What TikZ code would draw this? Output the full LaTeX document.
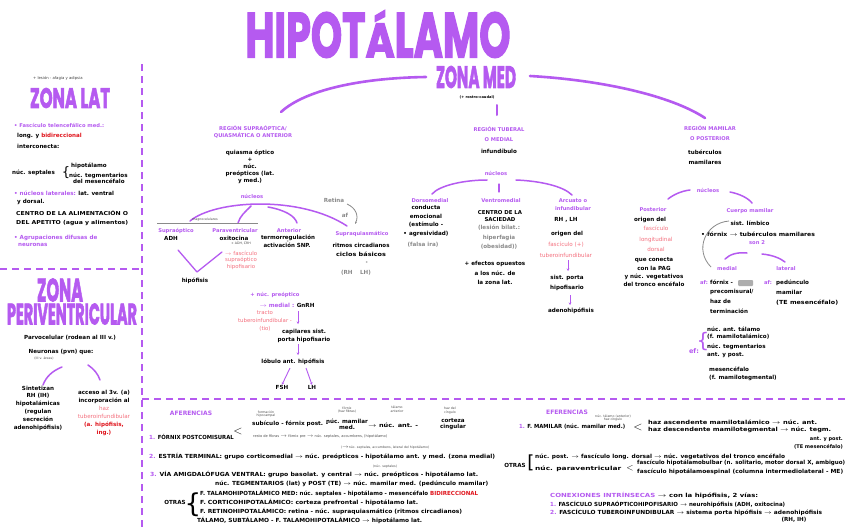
\documentclass[tikz,border=0pt]{standalone}
\usepackage{fontspec}
\usepackage{graphicx}
\setmainfont{DejaVu Sans}
\newfontfamily\headfont{Poppins}[FakeBold=2.5]
\usetikzlibrary{arrows.meta}
\definecolor{purp}{HTML}{B55AF0}
\definecolor{pinkc}{HTML}{F4707E}
\definecolor{redc}{HTML}{E0141C}
\definecolor{grayc}{HTML}{8A8A8A}
\newcommand\hw[2]{\resizebox{#1pt}{\height}{#2}}
\newcommand\myra{\ensuremath{\rightarrow}}
\newcommand\hd[3]{\resizebox{#1pt}{#2pt}{\headfont\bfseries #3}}
\tikzset{
 tx/.style={font=\fontsize{5.6}{7}\selectfont\bfseries, inner sep=0pt, align=center, text=black},
 pu/.style={tx, text=purp, font=\fontsize{5.2}{6.6}\selectfont\bfseries},
 pk/.style={tx, text=pinkc},
 gy/.style={tx, text=grayc},
 tn/.style={font=\fontsize{3.2}{3.8}\selectfont, inner sep=0pt, align=center, text=black!70},
 hd/.style={inner sep=0pt, text=purp},
 pline/.style={draw=purp, line width=1.5pt, line cap=round},
 bigline/.style={draw=purp, line width=2.6pt, line cap=round},
 pdash/.style={draw=purp, line width=2pt, dash pattern=on 7pt off 5pt},
 parr/.style={draw=purp, line width=0.9pt, -{Stealth[length=2.5pt,width=2.5pt]}},
}
\begin{document}
\begin{tikzpicture}[x=1pt,y=-1pt]
\fill[white] (0,0) rectangle (848,530);
\useasboundingbox (0,0) rectangle (848,530);

% ---------- separators ----------
\draw[pdash] (142,64) -- (142,530);
\draw[pdash] (0,269) -- (142,269);
\draw[pdash] (142,399) -- (848,399);

% ---------- title ----------
\node[hd] (title) at (378,34) {\hd{265}{47}{HIPOT\scalebox{1}[0.76]{Á}LAMO}};
\node[hd] (zmed) at (476,77) {\hd{80}{22}{ZONA MED}};
\node[tn, text=black, font=\fontsize{3.6}{4}\selectfont\bfseries] (rc) at (477,97.5) {(+ rostro-caudal)};
\coordinate (zl) at (426,77);
\coordinate (zr) at (530,76);
\coordinate (endA) at (281,112);
\coordinate (endM) at (705,118);
\draw[bigline] (zl) .. controls (360,78) and (305,90) .. (endA);
\draw[bigline] (zr) .. controls (600,80) and (670,95) .. (endM);
\coordinate (tk1) at (497,105);
\coordinate (tk2) at (497,115);
\draw[bigline, line width=2pt] (tk1) -- (tk2);

% ---------- ZONA LAT ----------
\node[tn, anchor=west, font=\fontsize{3.8}{4.4}\selectfont, text=black!75] (les) at (33,78) {+ lesión - afagia y adipsia};
\node[hd] (zlat) at (70,98) {\hd{80}{20}{ZONA LAT}};
\node[pu, anchor=west] (fas) at (14,125) {• Fascículo telencefálico med.:};
\node[tx, anchor=west] (long) at (17,136) {long. y \textcolor{redc}{bidireccional}};
\node[tx, anchor=west] (inter) at (17,146) {interconecta:};
\node[tx, anchor=west] (sept) at (12,173) {núc. septales};
\node[tx] (brA) at (66,173) {\fontsize{13}{13}\selectfont\mdseries\{};
\node[tx, anchor=west] (hipo) at (71,166) {hipotálamo};
\node[tx, anchor=west, align=left, font=\fontsize{5.6}{6.3}\selectfont\bfseries] (tegm) at (69,178) {núc. tegmentarios\\\ \ del mesencéfalo};
\node[tx, anchor=west] (nlat) at (14,193) {\textcolor{purp}{• núcleos laterales:} lat. ventral};
\node[tx, anchor=west] (ydor) at (17,202) {y dorsal.};
\node[tx, anchor=west, align=left, font=\fontsize{5.4}{8.5}\selectfont\bfseries] (centro) at (16,218) {\hw{112}{CENTRO DE LA ALIMENTACIÓN O}\\\hw{112}{DEL APETITO (agua y alimentos)}};
\node[pu, anchor=west, align=left, font=\fontsize{5.6}{7.5}\selectfont\bfseries] (agr) at (14,241) {• Agrupaciones difusas de\\\ \ neuronas};

% ---------- ZONA PERIVENTRICULAR ----------
\node[hd] (zona2) at (60,290) {\hd{46}{23}{ZONA}};
\node[hd] (periv) at (72,314) {\hd{130}{21}{PERIVENTRICULAR}};
\node[tx] (parv) at (70,338) {Parvocelular (rodean al III v.)};
\node[tx] (neur) at (61,352) {Neuronas (pvn) que:};
\node[tn] (neur2) at (44,358.5) {(III v. áreas)};
\coordinate (pa1) at (62,367); \coordinate (pa2) at (43,385);
\coordinate (pb1) at (88,365); \coordinate (pb2) at (100,380);
\draw[pline] (pa1) .. controls (52,371) and (46,377) .. (pa2);
\draw[pline] (pb1) .. controls (94,369) and (98,374) .. (pb2);
\node[tx, font=\fontsize{5.6}{7.8}\selectfont\bfseries] (sint) at (38,408) {Sintetizan\\RH (IH)\\hipotalámicas\\(regulan\\secreción\\adenohipófisis)};
\node[tx, font=\fontsize{5.6}{8}\selectfont\bfseries] (acc) at (104,413) {acceso al 3v. (a)\\incorporación al\\\textcolor{pinkc}{\mdseries haz}\\\textcolor{pinkc}{\mdseries tuberoinfundibular}\\\textcolor{redc}{(a. hipófisis,}\\\textcolor{redc}{ing.)}};

% ---------- REGION ANTERIOR ----------
\node[pu] (regA) at (253,132) {REGIÓN SUPRAÓPTICA/\\QUIASMÁTICA O ANTERIOR};
\node[tx, font=\fontsize{5.6}{7}\selectfont\bfseries] (quias) at (250,167) {quiasma óptico\\+\\núc.\\preópticos (lat.\\y med.)};
\node[pu] (nucA) at (252,196) {núcleos};
\coordinate (aa1) at (190,221); \coordinate (aa2) at (347,226);
\coordinate (ab1) at (251,206); \coordinate (ab2) at (238,223);
\coordinate (ac1) at (268,207); \coordinate (ac2) at (297,223);
\draw[pline] (aa1) .. controls (215,200) and (300,195) .. (aa2);
\draw[pline] (ab1) .. controls (245,212) and (240,216) .. (ab2);
\draw[pline] (ac1) .. controls (285,210) and (295,216) .. (ac2);
\coordinate (mg1) at (157,223); \coordinate (mg2) at (258,223);
\draw[grayc, line width=0.6pt] (mg1) -- (mg2);
\node[tn] (magno) at (205,220) {magnocelulares};
\node[pu] (supo) at (176,231) {Supraóptico};
\node[tx] (adh) at (171,238) {ADH};
\node[pu] (parav) at (235,231) {Paraventricular};
\node[tx] (oxi) at (234,238) {oxitocina};
\node[tn] (oxi2) at (241,243) {+ ADH, CRH};
\node[pu] (ant) at (289,231) {Anterior};
\node[tx] (termo) at (288,238) {\hw{54}{termorregulación}};
\node[tn] (plus1) at (288,241.5) {+};
\node[tx] (activ) at (287,245.5) {\hw{47}{activación SNP.}};
\node[pu] (supq) at (362,234) {Supraquiasmático};
\node[tx, font=\fontsize{5.6}{9}\selectfont\bfseries] (ritmo) at (361,250) {\hw{57}{ritmos circadianos}\\\hw{50}{ciclos básicos}};
\node[tn] (plus2) at (367,262) {+};
\node[gy] (rhlh) at (356,273) {(RH \quad LH)};
\node[gy] (retina) at (334,200) {Retina};
\node[gy] (aff) at (345,215) {af};
\coordinate (rt1) at (347,204); \coordinate (rt2) at (355,224);
\draw[grayc, line width=0.8pt, -{Stealth[length=2.5pt]}] (rt1) .. controls (356,208) and (359,216) .. (rt2);
\coordinate (v1) at (178,250); \coordinate (v2) at (197,272); \coordinate (v3) at (222,252);
\draw[pline, line width=1.3pt, line join=round] (v1) -- (v2) -- (v3);
\node[tx] (hip) at (195,281) {hipófisis};
\node[pk, font=\fontsize{5.4}{6.6}\selectfont\mdseries] (fsh1) at (241,260) {\myra\ fascículo\\supraóptico\\hipofisario};
\node[pu] (pre) at (275,295) {+ núc. preóptico};
\node[tx] (gnrh) at (287,305) {\textcolor{purp}{\myra\ medial :} GnRH};
\node[pk, font=\fontsize{5.4}{7.8}\selectfont\mdseries] (tracto) at (265,321) {tracto\\tuberoinfundibular -\\(tio)};
\draw[parr] (298,311) -- (298,324);
\node[tx, font=\fontsize{5.6}{8}\selectfont\bfseries] (cap) at (304,336) {capilares sist.\\porta hipofisario};
\draw[parr] (298,344) -- (298,355);
\node[tx] (lob) at (293,362) {lóbulo ant. hipófisis};
\node[tx] (fsh) at (282,387) {FSH};
\node[tx] (lh) at (312,387) {LH};
\draw[parr] (290,368) -- (fsh.north);
\draw[parr] (306,368) -- (lh.north);

% ---------- REGION TUBERAL ----------
\node[pu, font=\fontsize{5.2}{10}\selectfont\bfseries] (regT) at (499,134) {REGIÓN TUBERAL\\O MEDIAL};
\node[tx] (inf) at (499,151) {infundíbulo};
\node[pu] (nucT) at (496,173) {núcleos};
\coordinate (ta1) at (487,180); \coordinate (ta2) at (432,194);
\coordinate (tb1) at (516,180); \coordinate (tb2) at (572,195);
\coordinate (tc1) at (499,184); \coordinate (tc2) at (499,192);
\draw[pline] (ta1) .. controls (465,180) and (440,185) .. (ta2);
\draw[pline] (tb1) .. controls (540,181) and (563,186) .. (tb2);
\draw[pline, line width=1.2pt] (tc1) -- (tc2);
\node[pu] (dors) at (430,201) {Dorsomedial};
\node[tx, font=\fontsize{5.6}{8.5}\selectfont\bfseries] (cond) at (426,221) {conducta\\emocional\\(estímulo -\\• agresividad)};
\node[gy] (falsa) at (423,245) {(falsa ira)};
\node[pu] (vent) at (501,201) {Ventromedial};
\node[tx, font=\fontsize{5.4}{7}\selectfont\bfseries] (cent) at (500,216.5) {CENTRO DE LA\\SACIEDAD};
\node[gy, font=\fontsize{5.6}{9.5}\selectfont\bfseries] (les2) at (499,237.5) {(lesión bilat.:\\hiperfagia\\(obesidad))};
\node[tx, font=\fontsize{5.6}{9.5}\selectfont\bfseries] (efec) at (495,273) {+ efectos opuestos\\a los núc. de\\la zona lat.};
\node[pu, font=\fontsize{5.2}{8}\selectfont\bfseries] (arcu) at (573,205) {Arcuato o\\infundibular};
\node[tx] (ghlh) at (566,220) {RH , LH};
\node[tx] (orig) at (567,234) {origen del};
\node[pk, font=\fontsize{5.6}{10.5}\selectfont\mdseries] (fasT) at (566,250) {fascículo (+)\\tuberoinfundibular};
\draw[parr] (568,260) -- (568,271);
\node[tx, font=\fontsize{5.6}{9.5}\selectfont\bfseries] (sisT) at (567,283) {sist. porta\\hipofisario};
\draw[parr] (570,295) -- (570,305);
\node[tx] (adeno) at (571,311) {adenohipófisis};

% ---------- REGION MAMILAR ----------
\node[pu, font=\fontsize{5.2}{10.5}\selectfont\bfseries] (regM) at (710,133) {REGIÓN MAMILAR\\O POSTERIOR};
\node[tx, font=\fontsize{5.6}{10}\selectfont\bfseries] (tub) at (705,157) {tubérculos\\mamilares};
\node[pu] (nucM) at (708,190) {núcleos};
\coordinate (ma1) at (690,190); \coordinate (ma2) at (668,199);
\coordinate (mb1) at (730,192); \coordinate (mb2) at (752,203);
\draw[pline] (ma1) .. controls (681,191) and (673,195) .. (ma2);
\draw[pline] (mb1) .. controls (740,194) and (748,198) .. (mb2);
\node[pu] (post) at (653,210) {Posterior};
\node[tx] (orig2) at (650,220) {origen del};
\node[pk, font=\fontsize{5.6}{10.5}\selectfont\mdseries] (fld) at (656,239) {fascículo\\longitudinal\\dorsal};
\node[tx, font=\fontsize{5.6}{8.3}\selectfont\bfseries] (conn) at (654,272.5) {que conecta\\con la PAG\\y núc. vegetativos\\del tronco encéfalo};
\node[pu] (cmam) at (750,211) {Cuerpo mamilar};
\node[tx] (slim) at (750,223) {sist. límbico};
\node[tx] (rec) at (758,234) {\hw{114}{• fórnix \myra\ tubérculos mamilares}};
\node[pu] (son2) at (757,243) {son 2};
\coordinate (gc1) at (729,221); \coordinate (gc2) at (711,267);
\draw[grayc, line width=0.8pt] (gc1) .. controls (705,223) and (694,250) .. (gc2);
\coordinate (la1) at (747,253); \coordinate (la2) at (725,259);
\coordinate (lb1) at (762,254); \coordinate (lb2) at (785,262);
\draw[pline] (la1) .. controls (738,252) and (730,254) .. (la2);
\draw[pline] (lb1) .. controls (772,255) and (780,258) .. (lb2);
\node[pu] (medi) at (727,269) {medial};
\node[pu] (late) at (786,269) {lateral};
\node[pu] (af1) at (704,283) {af:};
\node[tx, anchor=north west, align=left, font=\fontsize{5.6}{9.7}\selectfont\bfseries] (forn) at (710,279.5) {fórnix -\\precomisural/\\haz de\\terminación};
\fill[grayc!70, rounded corners=1pt] (738,280) rectangle (753,286);
\node[pu] (af2) at (768,283) {af:};
\node[tx, anchor=north west, align=left, font=\fontsize{5.6}{10}\selectfont\bfseries] (ped) at (776,279.5) {pedúnculo\\mamilar\\\hw{62}{(TE mesencéfalo)}};
\node[pu, font=\fontsize{6.5}{7}\selectfont\bfseries] (ef) at (694,351) {ef:};
\node[tx, text=purp] (brE) at (703,342) {\fontsize{20}{20}\selectfont\mdseries\{};
\node[tx, anchor=west, align=left, font=\fontsize{5.6}{7}\selectfont\bfseries] (efa) at (707,333.5) {núc. ant. tálamo\\(f. mamilotalámico)};
\node[tx, anchor=west, align=left, font=\fontsize{5.6}{8}\selectfont\bfseries] (efb) at (707,351) {núc. tegmentarios\\ant. y post.};
\node[tx, anchor=west, align=left, font=\fontsize{5.6}{8}\selectfont\bfseries] (efc) at (709,374) {mesencéfalo\\(f. mamilotegmental)};

% ---------- AFERENCIAS ----------
\node[pu, font=\fontsize{6}{7}\selectfont\bfseries] (afer) at (191,413) {AFERENCIAS};
\node[tx, anchor=west] (f1) at (149,437) {\textcolor{purp}{1.} \hw{76}{FÓRNIX POSTCOMISURAL}};
\node[tx] (lt1) at (238,431) {\fontsize{13}{13}\selectfont\mdseries$<$};
\node[tn] (t1) at (266,414) {formación\\hipocampal};
\node[tx, anchor=west] (sub) at (252,424) {\hw{76}{subículo - fórnix post. -}};
\node[tx, font=\fontsize{5.6}{6}\selectfont\bfseries] (nmm) at (347,424) {núc. mamilar\\med.};
\node[tn] (t2) at (347,410) {fórnix\\(haz fibras)};
\node[tx, anchor=west] (nant) at (368,425) {\hw{50}{\myra\ núc. ant. -}};
\node[tn] (t3) at (397,409) {tálamo\\anterior};
\node[tx, font=\fontsize{5.6}{6}\selectfont\bfseries] (cort) at (453,424) {corteza\\cingular};
\node[tn] (t4) at (450,411) {haz del\\cíngulo};
\node[tn, anchor=west, font=\fontsize{3.6}{4}\selectfont] (resto) at (253,436) {resto de fibras \myra\ fórnix pre \myra\ núc. septales, accumbens, (hipotálamo)};
\node[tn] (t5) at (385,448) {(\myra núc. septales, accumbens, lateral del hipotálamo)};
\node[tx, anchor=west] (f2) at (149,457) {\hw{346}{\textcolor{purp}{2.} ESTRÍA TERMINAL: grupo corticomedial \myra\ núc. preópticos - hipotálamo ant. y med. (zona medial)}};
\node[tn] (t6) at (385,467) {(núc. septales)};
\node[tx, anchor=west] (f3) at (150,475) {\hw{328}{\textcolor{purp}{3.} VÍA AMIGDALÓFUGA VENTRAL: grupo basolat. y central \myra\ núc. preópticos - hipotálamo lat.}};
\node[tx, anchor=west] (f3b) at (215,484) {\hw{273}{núc. TEGMENTARIOS (lat) y POST (TE) \myra\ núc. mamilar med. (pedúnculo mamilar)}};
\node[tx] (otras) at (175,502) {OTRAS};
\node[tx] (brO) at (193,505) {\fontsize{26}{26}\selectfont\mdseries\{};
\node[tx, anchor=west] (o1) at (200,493) {\hw{278}{F. TALAMOHIPOTALÁMICO MED: núc. septales - hipotálamo - mesencéfalo \textcolor{redc}{BIDIRECCIONAL}}};
\node[tx, anchor=west] (o2) at (200,502) {\hw{218}{F. CORTICOHIPOTALÁMICO: corteza prefrontal - hipotálamo lat.}};
\node[tx, anchor=west] (o3) at (200,511) {\hw{262}{F. RETINOHIPOTALÁMICO: retina - núc. supraquiasmático (ritmos circadianos)}};
\node[tx, anchor=west] (o4) at (197,520) {\hw{225}{TÁLAMO, SUBTÁLAMO - F. TALAMOHIPOTALÁMICO \myra\ hipotálamo lat.}};

% ---------- EFERENCIAS ----------
\node[pu, font=\fontsize{6}{7}\selectfont\bfseries] (efer) at (567,412) {EFERENCIAS};
\node[tx, anchor=west] (e1) at (519,427) {\hw{106}{\textcolor{purp}{1.} F. MAMILAR (núc. mamilar med.)}};
\node[tn] (t7) at (613,418) {núc. tálamo (anterior)\\haz cíngulo};
\node[tx] (lt2) at (638,427) {\fontsize{13}{13}\selectfont\mdseries$<$};
\node[tx, anchor=west] (e1a) at (648,422) {\hw{169}{haz ascendente mamilotalámico \myra\ núc. ant.}};
\node[tx, anchor=west] (e1b) at (648,430) {\hw{183}{haz descendente mamilotegmental \myra\ núc. tegm.}};
\node[tx, anchor=east, align=right, font=\fontsize{5}{7.5}\selectfont\bfseries] (e1c) at (843,443) {ant. y post.\\(TE mesencéfalo)};
\node[tx] (otr2) at (515,465) {OTRAS};
\node[tx] (brO2) at (531,463) {\fontsize{18}{18}\selectfont\mdseries[};
\node[tx, anchor=west] (o5) at (535,457) {\hw{250}{núc. post. \myra\ fascículo long. dorsal \myra\ núc. vegetativos del tronco encéfalo}};
\node[tx, anchor=west] (o6) at (535,469) {\hw{86}{núc. paraventricular}};
\node[tx] (lt3) at (630,468) {\fontsize{9}{9}\selectfont\mdseries$<$};
\node[tx, anchor=west] (o6a) at (637,463) {\hw{208}{fascículo hipotálamobulbar (n. solitario, motor dorsal X, ambiguo)}};
\node[tx, anchor=west] (o6b) at (637,472) {\hw{206}{fascículo hipotálamoespinal (columna intermediolateral - ME)}};
\node[tx, anchor=west] (conx) at (550,495) {\hw{208}{\textcolor{purp}{CONEXIONES INTRÍNSECAS} \myra\ con la hipófisis, 2 vías:}};
\node[tx, anchor=west] (c1) at (550,504) {\hw{235}{\textcolor{purp}{1.} FASCÍCULO SUPRAÓPTICOHIPOFISARIO \myra\ neurohipófisis (ADH, oxitocina)}};
\node[tx, anchor=west] (c2) at (550,512) {\hw{272}{\textcolor{purp}{2.} FASCÍCULO TUBEROINFUNDIBULAR \myra\ sistema porta hipófisis \myra\ adenohipófisis}};
\node[tx] (rhih) at (794,520) {(RH, IH)};
\end{tikzpicture}
\end{document}
